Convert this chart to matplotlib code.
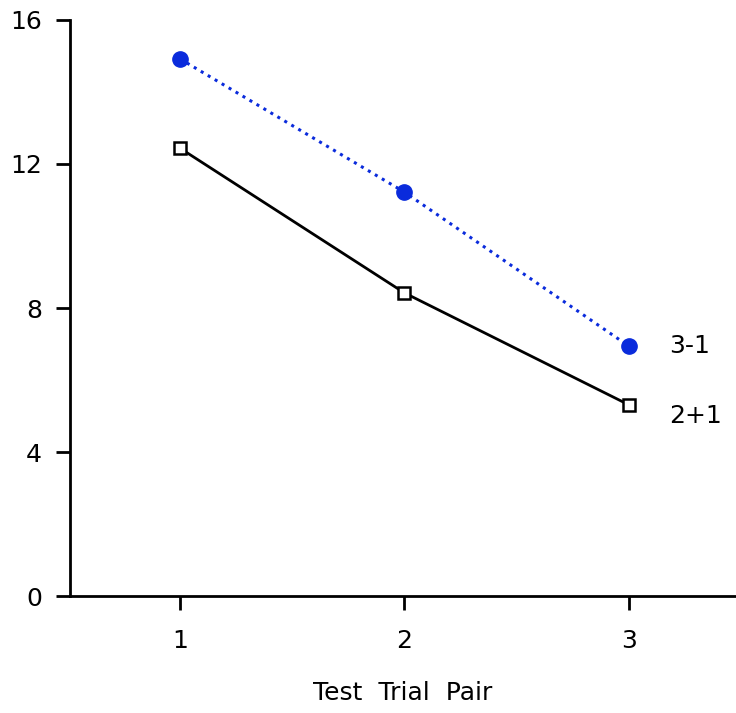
import matplotlib
matplotlib.use("Agg")
import matplotlib.pyplot as plt

# 数据
trial = [1, 2, 3]
series_31 = [14.92, 11.22, 6.94]
series_21 = [12.44, 8.42, 5.31]
y_ticks = [0, 4, 8, 12, 16]

fig = plt.figure(figsize=(7.36, 7.13), dpi=100)
ax = fig.add_axes([0.095, 0.164, 0.905, 0.808])

ax.plot(trial, series_31, color='#0a2bdc', linestyle=':', linewidth=2.2,
        marker='o', markersize=11, clip_on=False)
ax.plot(trial, series_21, color='black', linestyle='-', linewidth=2,
        marker='s', markersize=9, markerfacecolor='white',
        markeredgecolor='black', markeredgewidth=1.8, clip_on=False)

ax.text(3.18, series_31[-1], '3-1', fontsize=18, va='center', ha='left')
ax.text(3.18, series_21[-1] - 0.3, '2+1', fontsize=18, va='center', ha='left')

ax.set_xlim(0.51, 3.477)
ax.set_ylim(0, 16)
ax.set_xticks(trial)
ax.set_yticks(y_ticks)

for side in ['top', 'right']:
    ax.spines[side].set_visible(False)
for side in ['left', 'bottom']:
    ax.spines[side].set_linewidth(2)

ax.tick_params(axis='both', direction='out', length=10, width=2,
               labelsize=18)
ax.tick_params(axis='x', pad=14)
ax.tick_params(axis='y', pad=10)
ax.set_xlabel('Test  Trial  Pair', fontsize=18, labelpad=20)

fig.savefig('out.png', dpi=100)
